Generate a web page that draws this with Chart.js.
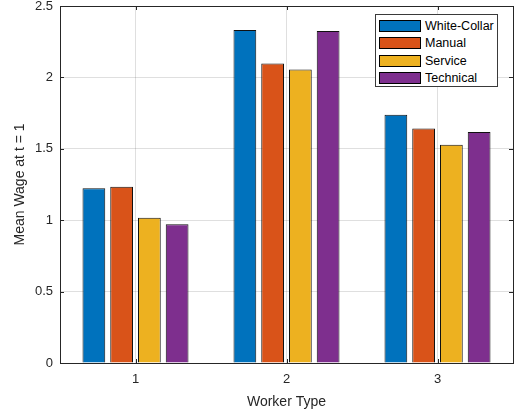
<!DOCTYPE html>
<html>
<head>
<meta charset="utf-8">
<script src="https://cdn.jsdelivr.net/npm/chart.js@4"></script>
<style>
    body { margin: 0; background: #fff; }
    #wrap { position: relative; width: 517px; height: 415px; }
    #legendBox {
        position: absolute; left: 375px; top: 14px; width: 123px; height: 73px;
        border: 1px solid #3a3a3a; background: #fff; box-sizing: border-box;
        font-family: "Liberation Sans", Arial, sans-serif; font-size: 12.5px; color: #000;
        padding-top: 2px;
    }
    .legItem { height: 17.5px; display: flex; align-items: center; }
    .legSwatch { width: 42px; height: 12px; border: 1px solid #000; margin-left: 3px; margin-right: 4px; box-sizing: border-box; }
</style>
</head>
<body>
<div id="wrap">
    <canvas id="myChart" width="517" height="415"></canvas>
    <div id="legendBox"></div>
</div>
<script>
const categories = ['1', '2', '3'];
const seriesNames = ['White-Collar', 'Manual', 'Service', 'Technical'];
const whiteCollar = [1.223, 2.332, 1.739];
const manual = [1.235, 2.097, 1.643];
const service = [1.018, 2.055, 1.528];
const technical = [0.971, 2.325, 1.618];
const yTickValues = [0, 0.5, 1, 1.5, 2, 2.5];
const seriesColors = ['#0072BD', '#D95319', '#EDB120', '#7E2F8E'];

const seriesValues = [whiteCollar, manual, service, technical];
const textColor = '#262626';
const gridColor = 'rgba(38,38,38,0.15)';
const fontFamily = '"Liberation Sans", Arial, sans-serif';

// box around the axes plus inward tick marks, like the original figure
const boxPlugin = {
    id: 'boxPlugin',
    afterDraw(chart) {
        const ctx = chart.ctx;
        const a = chart.chartArea;
        const xs = chart.scales.x;
        const ys = chart.scales.y;
        ctx.save();
        ctx.strokeStyle = textColor;
        ctx.lineWidth = 1;
        ctx.beginPath();
        xs.ticks.forEach((t, i) => {
            const px = Math.round(xs.getPixelForTick(i)) + 0.5;
            ctx.moveTo(px, a.bottom); ctx.lineTo(px, a.bottom - 4);
            ctx.moveTo(px, a.top); ctx.lineTo(px, a.top + 4);
        });
        ys.ticks.forEach(t => {
            const py = Math.round(ys.getPixelForValue(t.value)) + 0.5;
            ctx.moveTo(a.left, py); ctx.lineTo(a.left + 4, py);
            ctx.moveTo(a.right, py); ctx.lineTo(a.right - 4, py);
        });
        ctx.stroke();
        ctx.strokeRect(Math.round(a.left) + 0.5, Math.round(a.top) + 0.5,
            Math.round(a.right - a.left), Math.round(a.bottom - a.top));
        ctx.restore();
    }
};

let myChart;
drawChart();
fillLegend();

function drawChart() {
    let ctx = document.getElementById('myChart').getContext('2d');
    myChart = new Chart(ctx, {
        type: 'bar',
        data: {
            labels: categories,
            datasets: seriesNames.map((name, i) => ({
                label: name,
                data: seriesValues[i],
                backgroundColor: seriesColors[i],
                borderColor: '#111',
                borderWidth: 1,
                categoryPercentage: 0.735,
                barPercentage: 0.82
            }))
        },
        options: {
            responsive: false,
            animation: false,
            layout: { padding: { top: 6, right: 4, left: 0, bottom: 0 } },
            plugins: {
                legend: { display: false },
                tooltip: { enabled: false }
            },
            scales: {
                x: {
                    grid: { color: gridColor, offset: false, drawTicks: false },
                    border: { display: false },
                    ticks: { color: textColor, font: { family: fontFamily, size: 13 }, padding: 9 },
                    title: {
                        display: true, text: 'Worker Type', color: textColor,
                        font: { family: fontFamily, size: 14 }, padding: { top: -2 }
                    },
                    afterFit: scale => { scale.height = 52; scale.paddingLeft = 0; scale.paddingRight = 0; }
                },
                y: {
                    min: 0,
                    max: 2.5,
                    grid: { color: gridColor, drawTicks: false },
                    border: { display: false },
                    afterBuildTicks: scale => { scale.ticks = yTickValues.map(v => ({ value: v })); },
                    ticks: {
                        color: textColor, font: { family: fontFamily, size: 13 }, padding: 7,
                        callback: v => String(v)
                    },
                    title: {
                        display: true, text: 'Mean Wage at t = 1', color: textColor,
                        font: { family: fontFamily, size: 14 }, padding: { top: 12, bottom: 0 }
                    },
                    afterFit: scale => { scale.width = 60; scale.paddingTop = 0; scale.paddingBottom = 0; }
                }
            }
        },
        plugins: [boxPlugin]
    });
}

function fillLegend() {
    const box = document.getElementById('legendBox');
    box.innerHTML = seriesNames.map((name, i) =>
        `<div class="legItem"><span class="legSwatch" style="background:${seriesColors[i]}"></span>${name}</div>`
    ).join('');
}
</script>
</body>
</html>
